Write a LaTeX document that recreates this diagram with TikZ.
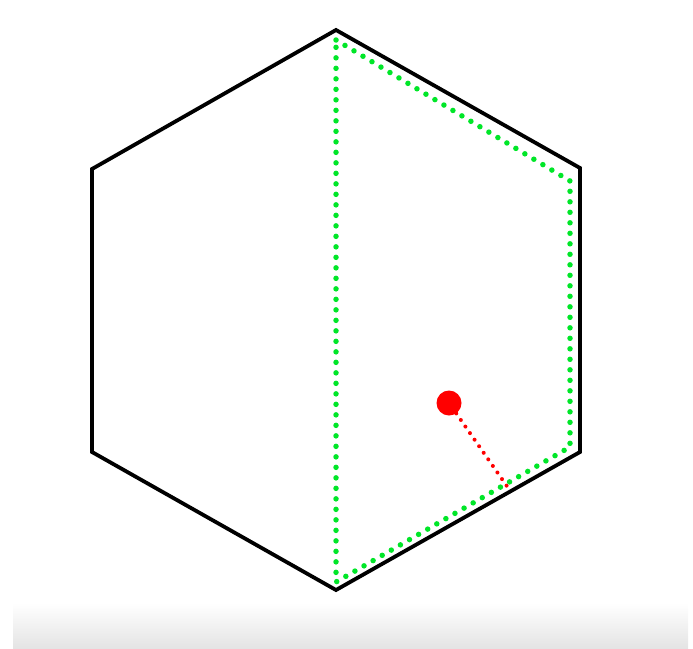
\documentclass[tikz,border=0pt]{standalone}
\begin{document}
\begin{tikzpicture}[x=1pt,y=-1pt,
  hexline/.style={line width=3.8pt,line join=miter,black},
  greendots/.style={line width=5.5pt,dash pattern=on 0pt off 10.5pt,line cap=round,color={rgb,255:red,0;green,230;blue,40}},
  reddots/.style={line width=4pt,dash pattern=on 0pt off 8pt,line cap=round,red},
  reddot/.style={circle,fill=red,inner sep=0pt,minimum size=25pt}]
\useasboundingbox (0,0) rectangle (693,648);
\shade[top color=white,bottom color={rgb,255:red,228;green,228;blue,228}] (13,603) rectangle (688,648);
% hexagon
\coordinate (t) at (336,30);
\coordinate (ur) at (580,168);
\coordinate (lr) at (580,452);
\coordinate (b) at (336,590);
\coordinate (ll) at (92,452);
\coordinate (ul) at (92,169);
\draw[hexline] (t) -- (ur) -- (lr) -- (b) -- (ll) -- (ul) -- cycle;
% green quadrilateral
\coordinate (g1) at (336,40);
\coordinate (g2) at (570,181);
\coordinate (g3) at (570,447);
\coordinate (g4) at (336,582);
\draw[greendots] (g1) -- (g2) -- (g3) -- (g4) -- cycle;
% red dot
\node[reddot] (p) at (449,403) {};
\coordinate (q) at (511,492);
\draw[reddots] (p) -- (q);
\end{tikzpicture}
\end{document}
